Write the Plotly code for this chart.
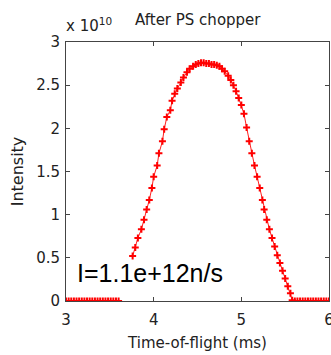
import plotly.graph_objects as go

# Time-of-flight (ms) and intensity (x 1e10)
tof_zero_left = [3.00, 3.03, 3.06, 3.09, 3.12, 3.15, 3.18, 3.21, 3.24, 3.27, 3.30,
                 3.33, 3.36, 3.39, 3.42, 3.45, 3.48, 3.51, 3.54, 3.57, 3.60]
tof_pulse = [3.76, 3.79, 3.82, 3.86, 3.89, 3.92, 3.95, 3.98, 4.00, 4.04, 4.06,
             4.10, 4.12, 4.15, 4.19, 4.21, 4.24, 4.27, 4.31, 4.34, 4.38, 4.41,
             4.45, 4.48, 4.51, 4.54, 4.57, 4.60, 4.63, 4.66, 4.69, 4.72, 4.75,
             4.78, 4.81, 4.85, 4.88, 4.91, 4.94, 4.97, 5.00, 5.03, 5.06, 5.09,
             5.12, 5.15, 5.18, 5.21, 5.24, 5.26, 5.29, 5.32, 5.35, 5.38, 5.41,
             5.44, 5.47, 5.50, 5.53, 5.56, 5.58]
int_pulse = [0.52, 0.62, 0.73, 0.83, 0.94, 1.06, 1.17, 1.31, 1.44, 1.57, 1.71,
             1.85, 1.99, 2.13, 2.21, 2.32, 2.40, 2.46, 2.53, 2.59, 2.65, 2.69,
             2.72, 2.74, 2.75, 2.76, 2.76, 2.75, 2.75, 2.74, 2.74, 2.73, 2.72,
             2.69, 2.66, 2.61, 2.56, 2.50, 2.43, 2.35, 2.27, 2.17, 2.01, 1.85,
             1.71, 1.57, 1.44, 1.31, 1.17, 1.06, 0.94, 0.83, 0.73, 0.63, 0.53,
             0.44, 0.35, 0.26, 0.17, 0.09, 0.01]
tof_zero_right = [5.61, 5.64, 5.67, 5.70, 5.73, 5.76, 5.79, 5.82, 5.85, 5.88, 5.91,
                  5.94, 5.97, 6.00]

x_ticks = [3, 4, 5, 6]
y_ticks = [0, 0.5, 1, 1.5, 2, 2.5, 3]
y_tick_labels = ["0", "0.5", "1", "1.5", "2", "2.5", "3"]

xs = tof_zero_left + [None] + tof_pulse + tof_zero_right
ys = [0] * len(tof_zero_left) + [None] + int_pulse + [0] * len(tof_zero_right)

FONT = "DejaVu Sans, sans-serif"
BIG = "Liberation Sans, Arial, sans-serif"
TXT = "#222222"

fig = go.Figure()
fig.add_trace(go.Scatter(
    x=xs, y=ys, mode="lines+markers", connectgaps=False,
    line=dict(color="#ff2020", width=1),
    marker=dict(symbol="cross-thin", size=5, color="#ff0000",
                line=dict(color="#ff0000", width=2)),
    showlegend=False,
))

axis_common = dict(showline=True, mirror="allticks", linecolor="#444444", linewidth=1,
                   ticks="inside", ticklen=4, tickcolor="#444444", showgrid=False,
                   zeroline=False, ticklabeloverflow="allow", automargin=False,
                   tickfont=dict(family=FONT, size=15, color=TXT))

fig.update_xaxes(range=[3, 6], tickvals=x_ticks, ticktext=[str(v) for v in x_ticks],
                 ticklabelstandoff=5,
                 title=dict(text="Time-of-flight (ms)", font=dict(family=FONT, size=15, color=TXT),
                            standoff=9),
                 **axis_common)
fig.update_yaxes(range=[0, 3], tickvals=y_ticks, ticktext=y_tick_labels,
                 ticklabelstandoff=2,
                 title=dict(text="Intensity", font=dict(family=FONT, size=16, color=TXT),
                            standoff=8),
                 **axis_common)

fig.add_annotation(x=0.5, y=1, xref="paper", yref="paper", yshift=11,
                   text="After PS chopper", showarrow=False, yanchor="bottom",
                   font=dict(family=FONT, size=15, color=TXT))
fig.add_annotation(x=0, y=1, xref="paper", yref="paper", xanchor="left", yanchor="bottom",
                   yshift=5, xshift=-2,
                   text="x 10<sup>10</sup>", showarrow=False,
                   font=dict(family=FONT, size=15, color=TXT))
fig.add_annotation(x=3.1, y=0.32, xref="x", yref="y", xanchor="left", yanchor="middle",
                   text="I=1.1e+12n/s", showarrow=False,
                   font=dict(family=BIG, size=25, color="#000"))

fig.update_layout(width=331, height=355, margin=dict(l=66, r=2, t=42, b=54),
                  paper_bgcolor="white", plot_bgcolor="white")

fig.write_html("out.html")
